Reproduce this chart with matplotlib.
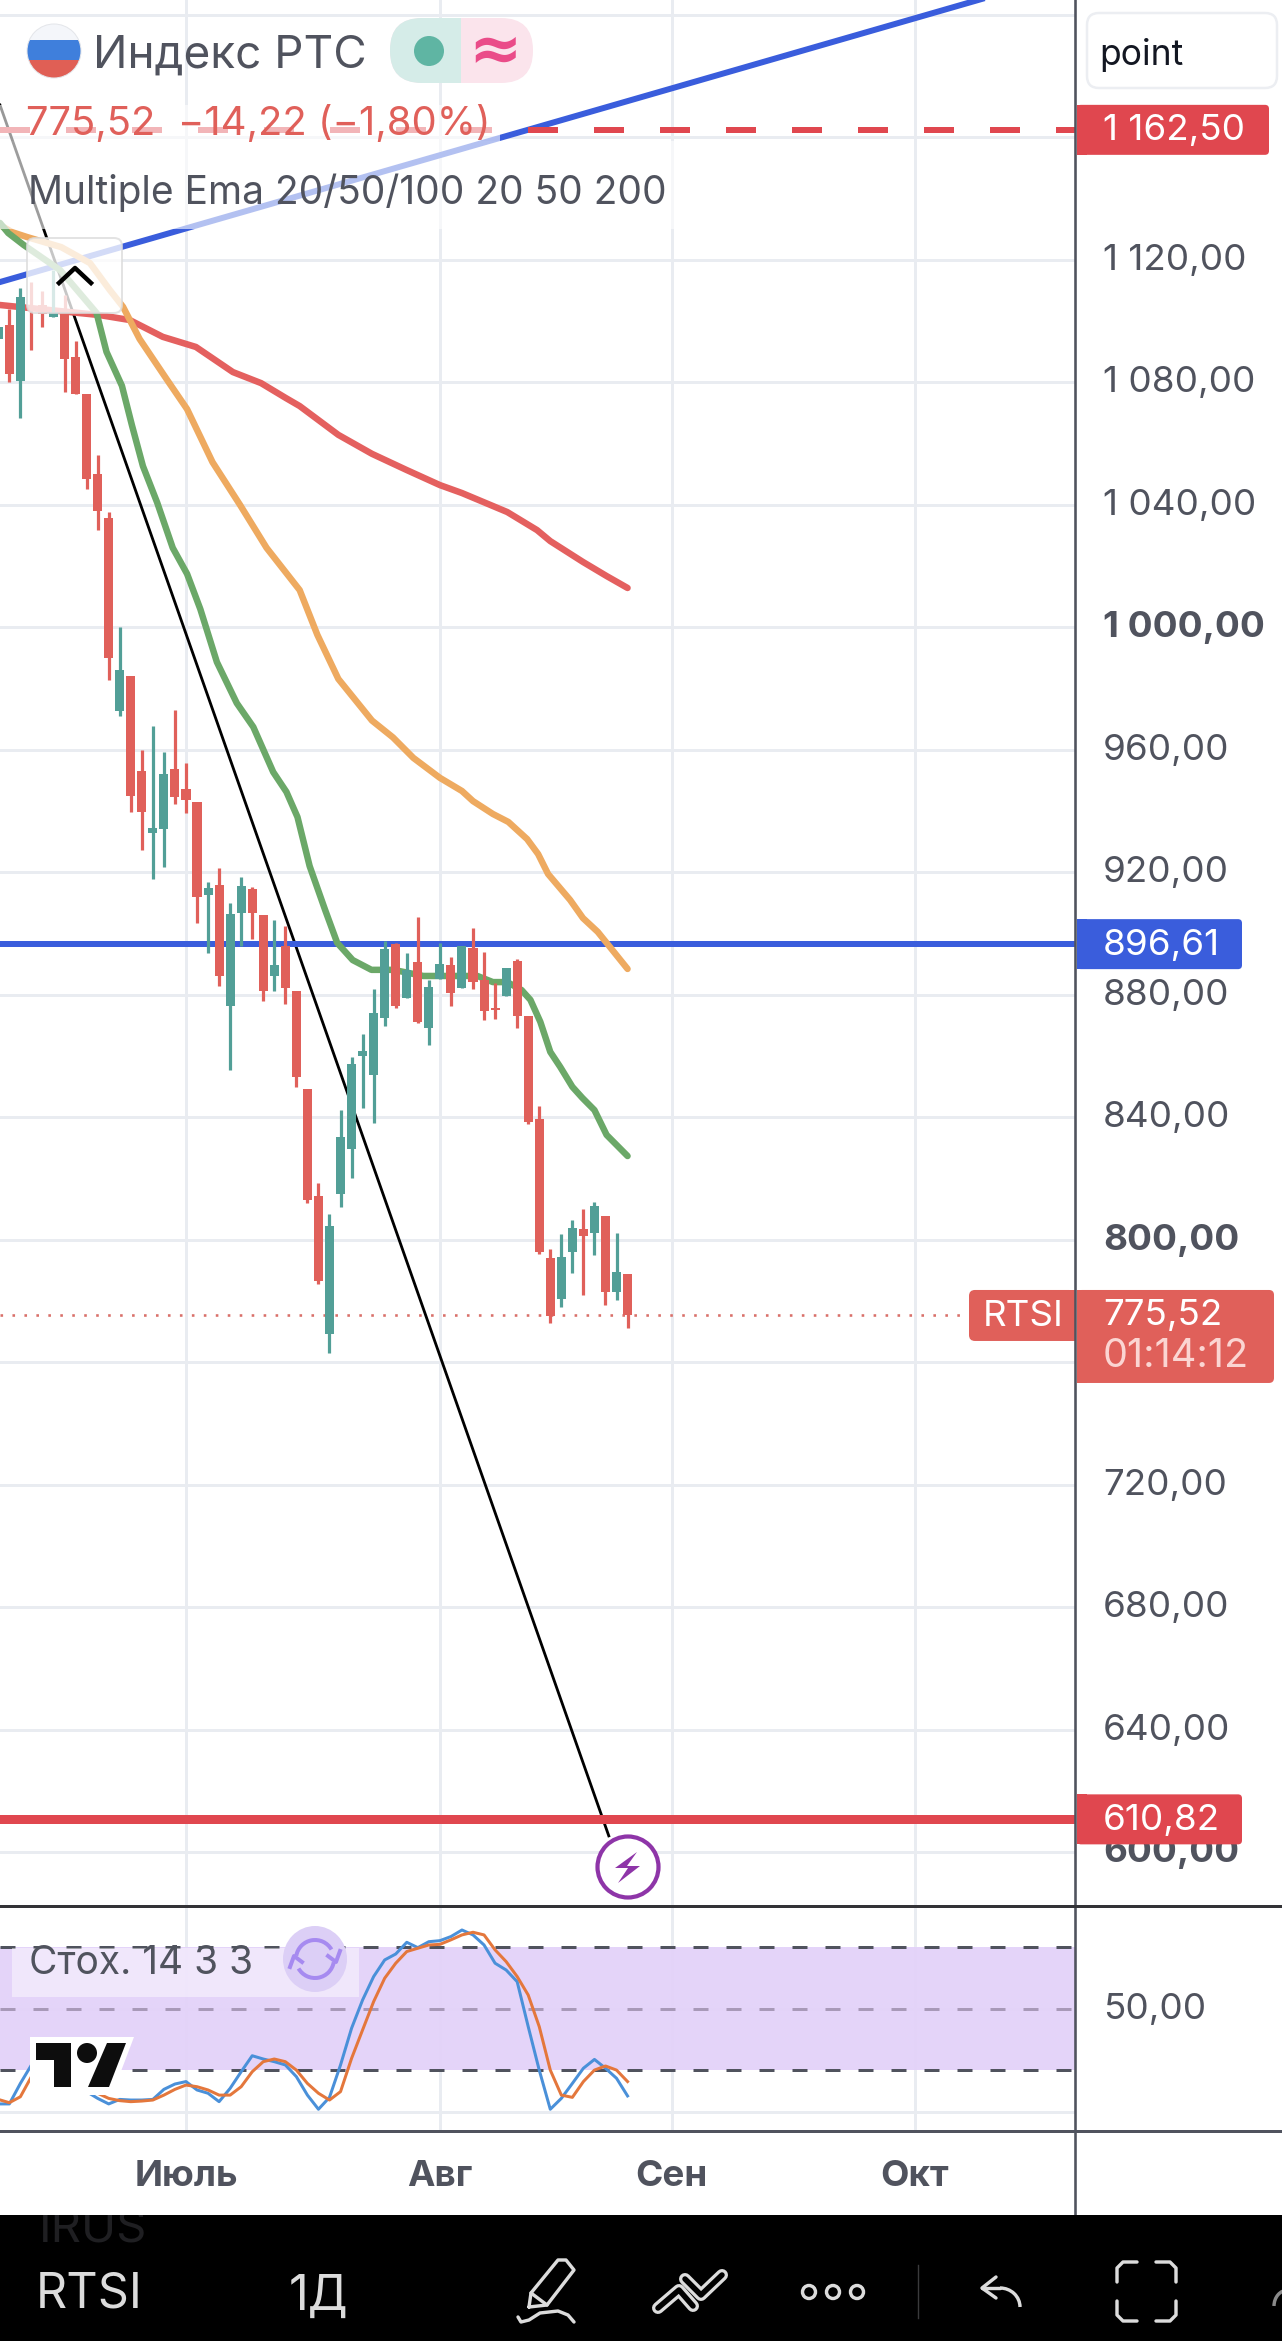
import matplotlib
matplotlib.use('Agg')
import matplotlib.pyplot as plt
from matplotlib.patches import FancyBboxPatch, Circle, Rectangle, Polygon, Arc, Ellipse
from matplotlib.transforms import ScaledTranslation

W, H = 1282, 2341
PX = 0.72  # points per pixel at dpi 100
plt.rcParams['font.family'] = ['Inter', 'Roboto', 'DejaVu Sans']

# daily candles, left to right
opens = [1094.1, 1098.7, 1080.5, 1104.8, 1105.4, 1101.5, 1103.4, 1088.3, 1076.3, 1050.1,
         1035.7, 972.8, 984.1, 953.1, 932.8, 934.1, 953.7, 947.2, 943.1, 912.8,
         915.9, 876.4, 906.7, 914.6, 906.1, 886.2, 896.1, 881.3, 849.3, 814.4,
         769.3, 815.0, 829.8, 860.2, 853.9, 872.6, 896.6, 879.1, 890.8, 869.3,
         885.2, 889.7, 882.4, 895.2, 884.9, 875.6, 879.5, 891.1, 873.1, 839.5,
         794.0, 780.6, 796.2, 803.6, 802.2, 807.8, 783.1, 788.9]
highs = [1100.0, 1104.1, 1110.7, 1112.7, 1109.8, 1116.7, 1108.7, 1093.4, 1076.3, 1056.4,
         1037.8, 1000.1, 984.1, 959.9, 967.7, 959.2, 973.2, 955.7, 943.1, 916.8,
         921.5, 909.9, 918.4, 915.2, 906.1, 904.5, 902.5, 881.3, 849.3, 818.5,
         808.4, 842.4, 859.9, 867.3, 881.9, 897.7, 897.1, 893.6, 905.4, 884.9,
         897.1, 892.3, 896.0, 901.8, 893.9, 883.8, 888.7, 891.6, 873.1, 843.9,
         797.0, 801.8, 806.5, 810.1, 812.3, 807.8, 802.2, 788.9]
lows = [1090.0, 1080.1, 1068.5, 1090.5, 1098.1, 1101.5, 1076.8, 1076.1, 1045.2, 1031.7,
        982.8, 971.2, 939.7, 927.2, 917.9, 921.9, 942.5, 939.5, 903.6, 893.6,
        883.0, 855.5, 896.1, 898.4, 878.1, 881.4, 877.2, 850.1, 811.9, 785.5,
        763.0, 810.6, 820.3, 843.2, 838.3, 869.7, 875.9, 879.1, 871.0, 863.8,
        885.2, 876.4, 882.4, 882.1, 871.8, 872.3, 879.5, 869.3, 838.0, 795.3,
        772.8, 778.2, 789.3, 782.0, 795.1, 778.6, 780.4, 771.2]
closes = [1098.1, 1082.7, 1107.8, 1103.4, 1102.3, 1103.0, 1087.7, 1076.1, 1048.4, 1038.1,
          989.9, 986.1, 945.1, 939.9, 934.4, 952.1, 944.8, 943.5, 911.9, 914.8,
          886.2, 906.3, 915.6, 906.9, 881.4, 889.8, 882.4, 853.3, 813.0, 786.6,
          804.6, 833.7, 857.5, 861.7, 874.0, 895.0, 876.5, 888.2, 871.3, 882.5,
          890.1, 880.8, 896.0, 884.3, 874.6, 875.0, 888.7, 873.2, 838.5, 795.9,
          775.0, 794.3, 803.8, 801.4, 811.1, 783.1, 789.4, 775.52]

# moving averages (bar position, price)
ema20_x = [0.15, 0.9, 2.3, 5.6, 8.9, 9.8, 11.2, 12.1, 13.1, 14.4, 15.8, 17.1, 18.3, 19.8, 21.6,
           23.1, 24.9, 26.1, 27.1, 28.2, 29.6, 30.7, 32.1, 33.8, 35.8, 38.5, 43.4, 44.8, 46.1,
           47.4, 48.2, 49.1, 50.0, 50.9, 52.0, 52.9, 54.0, 55.1, 57.0]
ema20_y = [1132.1, 1128.8, 1124.9, 1116.7, 1102.7, 1090.0, 1078.9, 1066.1, 1052.7, 1040.7, 1026.0,
           1017.5, 1006.0, 988.7, 975.3, 967.5, 952.8, 946.3, 938.1, 922.1, 907.8, 897.0, 891.4,
           888.2, 888.2, 886.2, 886.2, 884.2, 884.2, 881.6, 878.4, 871.2, 861.4, 856.5, 850.0,
           846.4, 842.4, 834.3, 827.4]
ema50_x = [0.15, 1.24, 2.6, 5.7, 8.3, 10.1, 11.3, 12.8, 15.3, 17.1, 19.4, 21.9, 24.3, 27.3, 28.9,
           30.8, 33.85, 35.75, 37.6, 40.0, 42.0, 43.0, 44.8, 46.2, 47.9, 48.9, 49.8, 51.8, 52.96,
           54.3, 57.0]
ema50_y = [1131.4, 1129.1, 1127.5, 1124.2, 1119.0, 1110.2, 1104.7, 1094.2, 1080.8, 1071.3, 1054.0,
           1040.0, 1026.0, 1012.2, 997.6, 983.2, 969.6, 964.1, 957.4, 950.9, 946.6, 943.3, 939.1,
           936.5, 930.9, 926.0, 919.5, 911.0, 905.1, 900.6, 888.5]
ema200_x = [0.15, 9.2, 11.9, 14.9, 17.9, 21.25, 23.8, 26.06, 27.3, 30.8, 33.85, 37.0, 40.0, 42.0,
            46.1, 48.8, 50.0, 52.96, 55.1, 57.0]
ema200_y = [1105.3, 1102.0, 1100.4, 1094.9, 1091.6, 1083.4, 1079.8, 1074.9, 1072.3, 1062.9, 1056.7,
            1051.4, 1046.5, 1043.9, 1037.7, 1031.8, 1028.2, 1021.4, 1016.8, 1012.9]

# stochastic, one value per bar
stoch_k = [3.7, 3.7, 13.7, 22.7, 26.7, 25.1, 21.9, 15.4, 9.7, 6.4,
           3.7, 5.9, 5.6, 5.6, 5.9, 10.8, 13.4, 14.6, 10.5, 8.9,
           4.8, 11.3, 19.4, 27.2, 25.6, 24.3, 22.7, 17.0, 8.0, 1.1,
           6.9, 22.7, 40.6, 54.4, 65.8, 73.9, 76.8, 82.5, 79.9, 82.8,
           83.3, 85.3, 88.5, 86.1, 81.2, 72.3, 69.0, 63.3, 41.4, 20.2,
           1.1, 6.4, 13.7, 21.1, 25.4, 21.1, 16.2, 7.6]
stoch_d = [5.9, 4.3, 7.2, 17.0, 21.1, 25.9, 25.1, 21.9, 15.4, 8.9,
           6.4, 5.3, 4.8, 5.1, 5.6, 8.0, 10.8, 12.9, 12.1, 10.5,
           8.0, 8.0, 12.1, 19.4, 24.3, 25.6, 24.3, 20.2, 13.7, 8.9,
           5.6, 9.7, 25.9, 39.8, 53.6, 65.0, 72.3, 78.0, 79.6, 81.2,
           81.5, 83.7, 86.1, 87.4, 86.1, 78.8, 73.1, 65.8, 56.8, 41.4,
           20.2, 8.0, 6.9, 14.6, 20.2, 22.2, 20.2, 14.6]

price_ticks = [600, 640, 680, 720, 760, 800, 840, 880, 920, 960, 1000, 1040, 1080, 1120, 1160, 1200]
price_labels = ['600,00', '640,00', '680,00', '720,00', '', '800,00', '840,00', '880,00', '920,00',
                '960,00', '1 000,00', '1 040,00', '1 080,00', '1 120,00', '', '']
bold_prices = [600, 800, 1000]
month_pos = [17, 40, 61, 83]
month_labels = ['Июль', 'Авг', 'Сен', 'Окт']

trend_x = [0.154, 90.3]
trend_y = [1112.8, 1206.5]
fall_x = [0.154, 55.3]
fall_y = [1170.6, 605.4]
last_price = 775.52
upper_level = 1162.50
mid_level = 896.61
lower_level = 610.82

RED = '#e0605a'
GREEN = '#529f97'
TXT = '#50535e'
GRID = '#e9ecf1'
ALERT = '#e0474f'
BLUE = '#3a5ddc'
NUM = 26.5


def ax_px(x0, y0, x1, y1):
    return [x0 / W, 1 - y1 / H, (x1 - x0) / W, (y1 - y0) / H]


fig = plt.figure(figsize=(W / 100, H / 100), dpi=100, facecolor='white')
ax = fig.add_axes(ax_px(0, 0, 1075, 1906))
st = fig.add_axes(ax_px(0, 1906, 1075, 2131))
xlim = (0.154, 97.53)
nudge = ScaledTranslation(-1 / 100, 3 / 100, fig.dpi_scale_trans)

# price pane
for s in ax.spines.values():
    s.set_visible(False)
ax.set_xlim(xlim)
ax.set_ylim(582.5, 1204.9)
ax.set_xticks(month_pos)
ax.set_xticklabels([])
ax.tick_params(axis='x', length=0)
ax.yaxis.tick_right()
ax.set_yticks(price_ticks)
ax.set_yticklabels(price_labels, color=TXT, fontsize=NUM)
ax.tick_params(axis='y', length=0, pad=29 * PX)
for tick, val in zip(ax.get_yticklabels(), price_ticks):
    tick.set_transform(tick.get_transform() + nudge)
    if val in bold_prices:
        tick.set_fontweight('bold')
ax.grid(True, color=GRID, lw=3 * PX, zorder=0)
ax.set_axisbelow(True)

ax.plot(trend_x, trend_y, color=BLUE, lw=6 * PX, zorder=2)
ax.plot(fall_x, fall_y, color='black', lw=2.8 * PX, zorder=2)
ax.axhline(upper_level, color=ALERT, lw=6 * PX, ls=(0, (5, 6)), zorder=2)
ax.axhline(mid_level, color=BLUE, lw=6 * PX, zorder=2)
ax.axhline(lower_level, color=ALERT, lw=9 * PX, zorder=2)
ax.axhline(last_price, xmax=968 / 1075, color='#d9706a', lw=2.6 * PX, ls=(0, (1, 3.6)), zorder=2)

ax.plot(ema200_x, ema200_y, color='#e4605f', lw=6.5 * PX, zorder=3, solid_capstyle='round')
ax.plot(ema50_x, ema50_y, color='#eeaa60', lw=6.5 * PX, zorder=3, solid_capstyle='round')
ax.plot(ema20_x, ema20_y, color='#6ba868', lw=6.5 * PX, zorder=3, solid_capstyle='round')

for i in range(len(opens)):
    col = GREEN if closes[i] >= opens[i] else RED
    ax.vlines(i, lows[i], highs[i], color=col, lw=3.2 * PX, zorder=4)
    top = max(opens[i], closes[i])
    bot = min(opens[i], closes[i])
    ax.bar(i, top - bot, bottom=bot, width=0.82, color=col, linewidth=0, zorder=4)

# stochastic pane
for s in st.spines.values():
    s.set_visible(False)
st.set_xlim(xlim)
st.set_ylim(-9.5, 100.2)
st.yaxis.tick_right()
st.set_yticks([0, 50])
st.set_yticklabels(['', '50,00'], color=TXT, fontsize=NUM)
st.tick_params(axis='y', length=0, pad=29 * PX)
for tick in st.get_yticklabels():
    tick.set_transform(tick.get_transform() + nudge)
st.set_xticks(month_pos)
st.set_xticklabels(month_labels, color=TXT, fontsize=26.5, fontweight='bold')
st.tick_params(axis='x', length=0, pad=29 * PX)
st.grid(True, color=GRID, lw=3 * PX, zorder=0)
st.set_axisbelow(True)
st.axhspan(20, 80, color='#e3d2f9', alpha=0.95, lw=0, zorder=1)
st.axhline(80, color=TXT, lw=3 * PX, ls=(0, (5, 6)), zorder=2)
st.axhline(20, color=TXT, lw=3 * PX, ls=(0, (5, 6)), zorder=2)
st.axhline(50, color='#a899b8', lw=3 * PX, ls=(0, (5, 6)), zorder=2)
st.plot(range(len(stoch_k)), stoch_k, color='#4a90d9', lw=3 * PX, zorder=3)
st.plot(range(len(stoch_d)), stoch_d, color='#e4773c', lw=3 * PX, zorder=3)

# everything on top is chrome in pixel coordinates
ui = fig.add_axes([0, 0, 1, 1], zorder=10)
ui.set_xlim(0, W)
ui.set_ylim(H, 0)
ui.axis('off')
ui.patch.set_alpha(0)


def round_box(x0, y0, x1, y1, r, fc, ec='none', lw=0, alpha=None, z=5):
    p = FancyBboxPatch((x0 + r, y0 + r), x1 - x0 - 2 * r, y1 - y0 - 2 * r,
                       boxstyle='round,pad=%f,rounding_size=%f' % (r, r),
                       fc=fc, ec=ec, lw=lw, alpha=alpha, zorder=z)
    ui.add_patch(p)
    return p


# legend backings fade whatever runs underneath
ui.add_patch(Rectangle((0, 105), 500, 36, fc='white', alpha=0.6, lw=0, zorder=1))
ui.add_patch(Rectangle((0, 141), 680, 88, fc='white', alpha=0.62, lw=0, zorder=1))
round_box(27, 238, 122, 313, 8, 'white', ec='#dcdcdc', lw=2 * PX, alpha=0.78, z=2)
ui.plot([59, 75, 91], [283, 268, 283], color='black', lw=4.5 * PX, zorder=3)

# flag
clip = Circle((54, 51), 27, transform=ui.transData)
for y0, y1, c in [(24, 40, '#f4f6fa'), (40, 60, '#3f7fdc'), (60, 78, '#e05f55')]:
    r = Rectangle((27, y0), 54, y1 - y0, fc=c, lw=0, zorder=3)
    ui.add_patch(r)
    r.set_clip_path(clip)
ui.add_patch(Circle((54, 51), 27, fc='none', ec='#e4e6ea', lw=1 * PX, zorder=3))

ui.text(93, 56, 'Индекс РТС', color=TXT, fontsize=33, va='center', ha='left', zorder=6)
round_box(390, 18, 533, 83, 32, '#fbe4ec', z=3)
round_box(390, 18, 461 + 32, 83, 32, '#d5ece8', z=3)
ui.add_patch(Rectangle((461, 18), 40, 65, fc='#fbe4ec', lw=0, zorder=3))
ui.add_patch(Circle((429, 51), 15, fc='#5fb5a3', lw=0, zorder=4))
ui.text(495, 52, '≈', color='#ea4c89', fontsize=46, fontweight='bold', ha='center', va='center', zorder=6,
        family=['DejaVu Sans'])

ui.text(26, 124, '775,52  −14,22 (−1,80%)', color=RED, fontsize=28.8, va='center', zorder=6)
ui.text(28, 193, 'Multiple Ema 20/50/100 20 50 200', color=TXT, fontsize=28, va='center', zorder=6)

# point box and price tags
ui.add_patch(Rectangle((1076, 0), 206, 100, fc='white', lw=0, zorder=2))
round_box(1087, 13, 1277, 88, 12, 'white', ec='#eceef2', lw=2.5 * PX)
ui.text(1099, 55, 'point', color='#131722', fontsize=25.5, va='center', zorder=6)


def py(v):
    return 1240 - (v - 800) * 3.0625


def price_tag(v, txt, x1, col):
    y = py(v)
    round_box(1077, y - 25, x1, y + 25, 4, col)
    ui.add_patch(Rectangle((1077, y - 25), 10, 50, fc=col, lw=0, zorder=5))
    ui.text(1103, y + 1, txt, color='white', fontsize=NUM, va='center', zorder=6)


price_tag(upper_level, '1 162,50', 1269, ALERT)
price_tag(mid_level, '896,61', 1242, BLUE)
price_tag(lower_level, '610,82', 1242, ALERT)

ly = py(last_price)
round_box(969, ly - 25, 1075, ly + 26, 6, RED)
ui.add_patch(Rectangle((1060, ly - 25), 15, 51, fc=RED, lw=0, zorder=5))
round_box(1077, ly - 25, 1274, ly + 68, 5, RED)
ui.add_patch(Rectangle((1077, ly - 25), 10, 93, fc=RED, lw=0, zorder=5))
ui.text(983, ly + 2, 'RTSI', color='white', fontsize=NUM, va='center', zorder=6)
ui.text(1103, ly + 1, '775,52', color='white', fontsize=NUM, va='center', zorder=6)
ui.text(1103, ly + 42, '01:14:12', color='#fbd5d2', fontsize=28.5, va='center', zorder=6)

# lightning marker
ui.add_patch(Circle((628, 1867), 30.5, fc='white', ec='#8e35a8', lw=4.2 * PX, zorder=3))
ui.add_patch(Polygon([(637, 1852), (615, 1868), (628, 1868), (618, 1883), (640, 1866), (627, 1866)],
                     fc='#8e35a8', lw=0, zorder=4))

# stochastic legend
ui.add_patch(Rectangle((12, 1948), 347, 49, fc='white', alpha=0.45, lw=0, zorder=1))
ui.text(29, 1964, 'Стох. 14 3 3', color=TXT, fontsize=28, va='center', zorder=6)
ui.add_patch(Ellipse((315, 1959), 64, 66, fc='#dccff6', lw=0, zorder=3))
ui.add_patch(Arc((315, 1959), 38, 38, theta1=190, theta2=330, ec='#a68af0', lw=4 * PX, zorder=4))
ui.add_patch(Arc((315, 1959), 38, 38, theta1=10, theta2=150, ec='#a68af0', lw=4 * PX, zorder=4))
ui.plot([328, 336, 340], [1956, 1962, 1951], color='#a68af0', lw=4 * PX, zorder=4)
ui.plot([290, 294, 302], [1967, 1956, 1962], color='#a68af0', lw=4 * PX, zorder=4)

# tradingview mark
ui.add_patch(Polygon([(30, 2037), (134, 2037), (112, 2095), (30, 2095)], fc='white', lw=0, zorder=3))
ui.add_patch(Polygon([(36, 2043), (71, 2043), (71, 2087), (54, 2087), (54, 2060), (36, 2060)],
                     fc='#0d0d0d', lw=0, zorder=4))
ui.add_patch(Circle((87, 2053), 10, fc='#0d0d0d', lw=0, zorder=4))
ui.add_patch(Polygon([(107, 2043), (126, 2043), (109, 2087), (88, 2087)], fc='#0d0d0d', lw=0, zorder=4))

# frame lines
ui.plot([1075, 1075], [0, 2215], color=TXT, lw=2.6 * PX, zorder=7)
ui.plot([0, W], [1906, 1906], color='#333337', lw=3 * PX, zorder=7)
ui.plot([0, W], [2131, 2131], color=TXT, lw=3 * PX, zorder=7)

# black toolbar
bar = Rectangle((0, 2215), W, H - 2215, fc='black', lw=0, zorder=8)
ui.add_patch(bar)
ICON = '#dcdcdc'
irus = ui.text(39, 2230, 'IRUS', color='#1f1f22', fontsize=34, va='center', zorder=9)
irus.set_clip_path(bar)
irus.set_clip_on(True)
ui.text(36, 2295, 'RTSI', color=ICON, fontsize=35, va='center', zorder=9)
ui.text(289, 2297, '1Д', color=ICON, fontsize=35, va='center', zorder=9)


def icon(xs, ys, lw=3.4):
    ui.plot(xs, ys, color=ICON, lw=lw * PX, zorder=9, solid_capstyle='round', solid_joinstyle='round')


# pencil
icon([529, 531, 558, 566, 574, 547, 529], [2307, 2293, 2260, 2260, 2270, 2305, 2307])
icon([531, 547], [2293, 2305])
icon([518, 521, 529, 540, 558, 568, 574], [2317, 2322, 2320, 2313, 2311, 2315, 2322])
# double chevron
for xs, ys in [([658, 679, 693], [2308, 2290, 2306]), ([685, 701, 722], [2279, 2295, 2275])]:
    ui.plot(xs, ys, color=ICON, lw=12 * PX, zorder=9, solid_capstyle='round', solid_joinstyle='round')
    ui.plot(xs, ys, color='black', lw=5.5 * PX, zorder=9, solid_capstyle='round', solid_joinstyle='round')
# dots
for cx in [809, 833, 857]:
    ui.add_patch(Circle((cx, 2292), 6.5, fc='none', ec=ICON, lw=3.4 * PX, zorder=9))
ui.plot([918, 918], [2265, 2318], color='#3a3a3c', lw=1.4 * PX, zorder=9)
# undo
icon([996, 982, 996], [2277, 2288, 2298])
ui.add_patch(Arc((1000, 2307), 40, 38, theta1=270, theta2=360, ec=ICON, lw=3.4 * PX, zorder=9))
icon([982, 1000], [2288, 2288])
# focus corners
icon([1117, 1117, 1123, 1137], [2282, 2268, 2262, 2262])
icon([1156, 1170, 1176, 1176], [2262, 2262, 2268, 2282])
icon([1117, 1117, 1123, 1137], [2301, 2315, 2321, 2321])
icon([1156, 1170, 1176, 1176], [2321, 2321, 2315, 2301])
ui.add_patch(Arc((1288, 2306), 28, 32, theta1=180, theta2=270, ec='#8a8a8a', lw=3.4 * PX, zorder=9))

fig.savefig('out.png', dpi=100)
